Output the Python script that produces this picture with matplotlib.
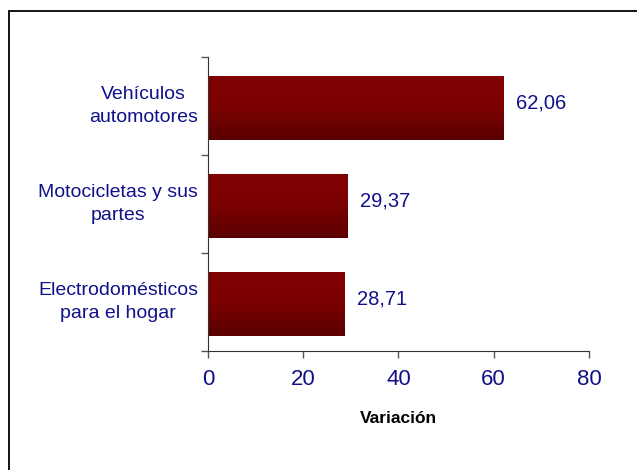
import numpy as np
import matplotlib
matplotlib.use("Agg")
import matplotlib.pyplot as plt
from matplotlib.colors import LinearSegmentedColormap
from matplotlib.patches import Rectangle

# data
categories = ["Vehículos\nautomotores", "Motocicletas y sus\npartes", "Electrodomésticos\npara el hogar"]
values = [62.06, 29.37, 28.71]
value_labels = ["62,06", "29,37", "28,71"]
x_ticks = [0, 20, 40, 60, 80]

plt.rcParams['font.family'] = ['Liberation Sans', 'DejaVu Sans']
navy = '#10108a'

fig = plt.figure(figsize=(6.37, 4.70), dpi=100)
ax = fig.add_axes([0.3265, 0.2532, 0.598, 0.6255])

# frame around the figure (only top and left visible in reference)
fig.patches.append(Rectangle((9 / 637, -0.1), 1.2, 1.1 - 11 / 470, transform=fig.transFigure,
                             fill=False, edgecolor='black', linewidth=1.3))

ypos = np.arange(len(categories))[::-1]
bar_h = 0.65
cmap = LinearSegmentedColormap.from_list('barred', [(0, '#800000'), (0.45, '#7d0000'), (1, '#5a0000')])
grad = np.linspace(0, 1, 100).reshape(-1, 1)

for y, v, lab in zip(ypos, values, value_labels):
    ax.imshow(grad, extent=[0, v, y - bar_h / 2 - 0.02, y + bar_h / 2 - 0.02], aspect='auto',
              cmap=cmap, origin='upper', interpolation='bilinear', zorder=2)
    ax.text(v + 2.6, y + 0.03, lab, va='center', ha='left', fontsize=14.5, color=navy)

ax.set_xlim(0, 80)
ax.set_ylim(-0.5, 2.5)
ax.set_xticks(x_ticks)
ax.set_xticklabels([str(t) for t in x_ticks], fontsize=16, color=navy)
ax.set_yticks([-0.5, 0.5, 1.5, 2.5])
ax.set_yticklabels([])
ax.tick_params(axis='y', length=5, width=1, color='#555555')
ax.tick_params(axis='x', length=5, width=1, color='#555555', pad=8)

# category labels: text block right edge near the axis, lines centred
for y, c in zip(ypos, categories):
    ax.text(-0.026, y, c, transform=ax.get_yaxis_transform(), ha='right', va='center',
            fontsize=14, color=navy, linespacing=1.5, multialignment='center')

ax.set_xlabel('Variación', fontsize=12.5, fontweight='bold', labelpad=15)
ax.spines['top'].set_visible(False)
ax.spines['right'].set_visible(False)
ax.spines['left'].set_color('#333333')
ax.spines['bottom'].set_color('#333333')

fig.savefig('out.png', dpi=100, facecolor='white')
